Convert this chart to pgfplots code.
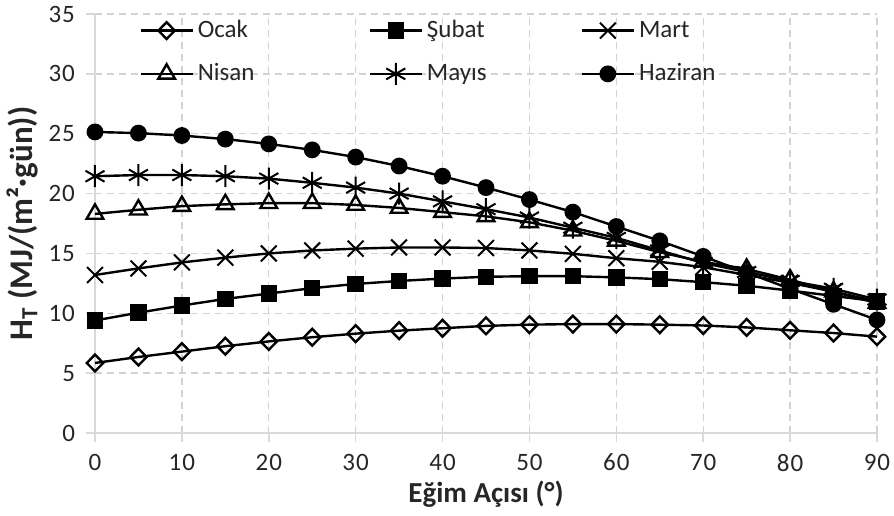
\documentclass[border=0pt]{standalone}
\usepackage{fontspec}
\setmainfont{Carlito}
\newfontfamily\tickfont[LetterSpace=4]{Carlito}
\usepackage{pgfplots}
\pgfplotsset{compat=1.18}
\usepackage{pgfplotstable}

\pgfplotstableread{
x  ocak subat mart  nisan mayis haziran
0  5.85 9.40  13.20 18.30 21.45 25.15
5  6.35 10.05 13.75 18.65 21.55 25.05
10 6.80 10.65 14.25 18.95 21.55 24.85
15 7.25 11.20 14.65 19.10 21.45 24.55
20 7.65 11.65 15.00 19.20 21.25 24.15
25 8.00 12.10 15.25 19.20 20.90 23.65
30 8.30 12.45 15.40 19.05 20.50 23.05
35 8.55 12.70 15.50 18.80 20.00 22.30
40 8.75 12.90 15.50 18.45 19.35 21.45
45 8.95 13.05 15.45 18.10 18.70 20.50
50 9.05 13.10 15.25 17.60 18.00 19.50
55 9.10 13.10 14.97 16.90 17.15 18.45
60 9.10 13.00 14.60 16.05 16.30 17.25
65 9.05 12.85 14.30 15.10 15.25 16.05
70 8.98 12.60 13.85 14.30 14.20 14.75
75 8.82 12.30 13.20 13.70 13.45 13.40
80 8.58 11.90 12.55 12.80 12.70 12.05
85 8.35 11.45 11.80 11.80 12.05 10.75
90 8.05 11.00 11.00 10.85 11.15 9.45
}\data

\begin{document}
\begin{tikzpicture}
\useasboundingbox (-47.5pt,-41pt) rectangle (399.5pt,216.5pt);
\begin{axis}[
  at={(0,0)}, anchor=south west,
  scale only axis, width=391pt, height=209.5pt,
  xmin=0, xmax=90, ymin=0, ymax=35,
  xtick={0,10,...,90}, ytick={0,5,...,35},
  axis lines*=left,
  axis line style={draw=gray!30, line width=0.8pt},
  grid=major,
  major grid style={draw=gray!35, line width=0.7pt, dash pattern=on 3.5pt off 2.5pt},
  tick align=outside, major tick length=4.5pt,
  tick style={draw=gray!30, line width=0.8pt},
  /pgf/number format/assume math mode=true,
  ticklabel style={font=\tickfont\fontsize{12.5}{12.5}\selectfont, text=black!85},
  yticklabel style={xshift=-2pt},
  xticklabel style={yshift=-2.5pt},
  xlabel={\bfseries Eğim Açısı (°)},
  ylabel={\bfseries H\textsubscript{T} (MJ/(m²·gün))},
  xlabel style={font=\fontsize{14.5}{14.5}\selectfont, text=black!85, at={(axis description cs:0.5,-0.167)}, anchor=base},
  ylabel style={font=\fontsize{16.5}{16.5}\selectfont, text=black!85, at={(axis description cs:-0.093,0.5)}, anchor=center, rotate=0},
  legend columns=3,
  legend cell align=left,
  legend image code/.code={\draw[mark repeat=2,mark phase=2] plot coordinates {(0pt,0pt) (13pt,0pt) (26pt,0pt)};},
  legend style={draw=none, fill=none, at={(rel axis cs:0,1)}, anchor=north west,
    xshift=22pt, yshift=-1pt, inner sep=0pt, row sep=7.5pt,
    font=\fontsize{12.5}{12.5}\selectfont, text=black!85,
    nodes={inner sep=2pt},
    /tikz/column 2/.style={column sep=55pt},
    /tikz/column 4/.style={column sep=45pt}},
  every axis plot/.append style={black, line width=1.2pt, mark options={line width=1pt, solid}},
]
\addplot[mark=diamond, mark size=4.2pt, mark options={fill=white, xscale=1.3}] table[x=x,y=ocak] {\data};
\addlegendentry{Ocak}
\addplot[mark=square*, mark size=3.5pt, mark options={fill=black}] table[x=x,y=subat] {\data};
\addlegendentry{Şubat}
\addplot[mark=x, mark size=5.6pt] table[x=x,y=mart] {\data};
\addlegendentry{Mart}
\addplot[mark=triangle, mark size=4.8pt, mark options={fill=white}] table[x=x,y=nisan] {\data};
\addlegendentry{Nisan}
\addplot[mark=asterisk, mark size=5.5pt] table[x=x,y=mayis] {\data};
\addlegendentry{Mayıs}
\addplot[mark=*, mark size=3.6pt, mark options={fill=black}] table[x=x,y=haziran] {\data};
\addlegendentry{Haziran}
\end{axis}
\end{tikzpicture}
\end{document}
